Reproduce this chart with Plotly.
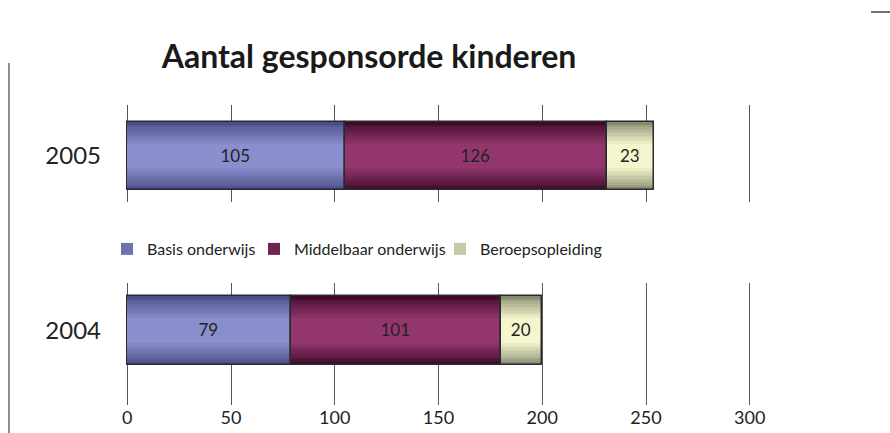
import numpy as np
import plotly.graph_objects as go
from plotly.subplots import make_subplots

title = "Aantal gesponsorde kinderen"
years = ["2005", "2004"]
series = ["Basis onderwijs", "Middelbaar onderwijs", "Beroepsopleiding"]
basis = [105, 79]
middelbaar = [126, 101]
beroeps = [23, 20]
values = {"Basis onderwijs": basis, "Middelbaar onderwijs": middelbaar, "Beroepsopleiding": beroeps}
x_ticks = [0, 50, 100, 150, 200, 250, 300]

# (edge colour, centre colour) for the shaded bars
shade = {
    "Basis onderwijs": ((72, 76, 135), (138, 142, 204)),
    "Middelbaar onderwijs": ((62, 10, 40), (148, 54, 110)),
    "Beroepsopleiding": ((135, 137, 110), (246, 246, 206)),
}
layer_widths = [1.0, 0.92, 0.84, 0.76, 0.68, 0.6, 0.52, 0.44, 0.36]

W, H = 890, 433
ML, MR, MT, MB = 60, 100, 0, 28
GW = W - ML - MR
GH = H - MT - MB


def px_x(p):
    return (p - ML) / GW


def px_y(p):
    return (GH - (p - MT)) / GH


def mix(a, b, t):
    return "rgb(%d,%d,%d)" % tuple(round(a[k] + (b[k] - a[k]) * t) for k in range(3))


fig = make_subplots(rows=2, cols=1, shared_xaxes=False, vertical_spacing=0.0)

legend_ids = {"Basis onderwijs": "legend", "Middelbaar onderwijs": "legend2", "Beroepsopleiding": "legend3"}

for i, yr in enumerate(years):
    row = i + 1
    vals = [values[s][i] for s in series]
    bases = np.concatenate([[0], np.cumsum(vals)[:-1]])
    for s, v, b in zip(series, vals, bases):
        edge, centre = shade[s]
        n = len(layer_widths)
        for k, w in enumerate(layer_widths):
            t = (k / (n - 1)) ** 0.8
            fig.add_trace(
                go.Bar(
                    x=[v], y=[yr], base=[b], orientation="h", name=s,
                    marker=dict(color=mix(edge, centre, t), line=dict(width=0)),
                    width=w, showlegend=(i == 0 and k == 4), legend=legend_ids[s],
                    legendgroup=s, hoverinfo="skip",
                ),
                row=row, col=1,
            )
        fig.add_trace(
            go.Bar(
                x=[v], y=[yr], base=[b], orientation="h", name=s,
                marker=dict(color="rgba(0,0,0,0)", line=dict(color="#2a2a33", width=1.5)),
                text=[str(v)], textposition="inside", insidetextanchor="middle",
                textfont=dict(size=17, color="#222222", family="Lato"),
                width=1.0, showlegend=False, legendgroup=s,
            ),
            row=row, col=1,
        )

legend_common = dict(orientation="h", xanchor="left", y=px_y(249), yanchor="middle",
                     font=dict(size=16, color="#222222", family="Lato"),
                     bgcolor="rgba(0,0,0,0)")

fig.update_layout(
    barmode="overlay",
    width=W, height=H,
    margin=dict(l=ML, r=MR, t=MT, b=MB, autoexpand=False),
    paper_bgcolor="white", plot_bgcolor="white",
    font=dict(family="Lato", color="#222222"),
    title=dict(text="<b>" + title + "</b>", x=369 / W, xanchor="center",
               y=1 - 57 / H, yanchor="middle", font=dict(size=32, color="#1a1a1a", family="Lato")),
    legend=dict(x=px_x(107), **legend_common),
    legend2=dict(x=px_x(254), **legend_common),
    legend3=dict(x=px_x(440), **legend_common),
    bargap=0,
    shapes=[
        dict(type="line", xref="paper", yref="paper", x0=px_x(9), x1=px_x(9),
             y0=px_y(433), y1=px_y(63), line=dict(color="#444444", width=1.2)),
        dict(type="line", xref="paper", yref="paper", x0=px_x(871), x1=px_x(890),
             y0=px_y(12), y1=px_y(12), line=dict(color="#444444", width=1.5)),
    ],
)

xcommon = dict(range=[-0.6, 300.6], tickvals=x_ticks, showgrid=True, gridcolor="#555555",
               gridwidth=1, zeroline=False, showline=False, ticks="",
               domain=[px_x(126), px_x(751)], automargin=False)
fig.update_xaxes(**xcommon, showticklabels=False, row=1, col=1)
fig.update_xaxes(**xcommon, showticklabels=True, tickfont=dict(size=18, color="#222222", family="Lato"),
                 row=2, col=1)

fig.update_yaxes(domain=[px_y(202), px_y(105)], range=[-0.676, 0.75], row=1, col=1)
fig.update_yaxes(domain=[px_y(405), px_y(283)], range=[-1.08, 0.688], row=2, col=1)
fig.update_yaxes(showgrid=False, zeroline=False, showline=False, ticks="", automargin=False,
                 tickfont=dict(size=24, color="#222222", family="Lato"), ticklabelstandoff=24)

fig.write_html("out.html", config={"displayModeBar": False},
               post_script="document.body.style.margin='0';")
